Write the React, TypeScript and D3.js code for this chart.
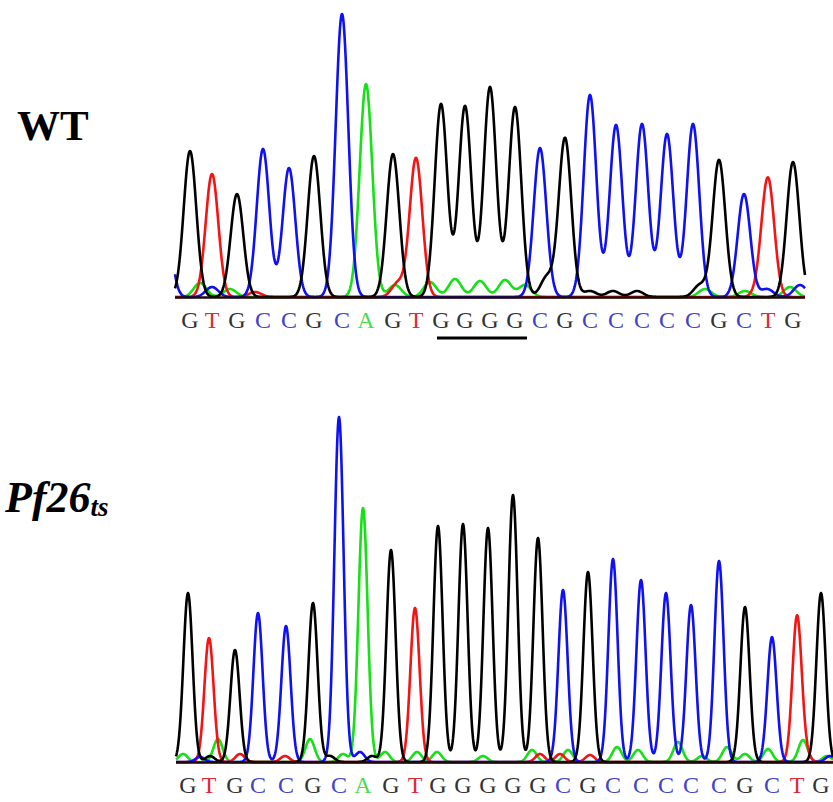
import React from "react";
import * as d3 from "d3";

// base calls, peak positions (scan) and peak heights (signal)
const wtBases = "GTGCCGCAGTGGGGCGCCCCCGCTG";
const wtPos = [15, 37, 62, 88, 114, 139, 167, 191, 218, 241, 266, 290, 315, 340, 365, 390, 415, 441, 467, 492, 518, 544, 569, 593, 618];
const wtHeight = [146, 123, 103, 148, 129, 141, 283, 213, 143, 139, 193, 191, 210, 190, 149, 159, 202, 172, 173, 163, 173, 137, 103, 117, 135];
// background / minor peaks: [base, scan, height]
const wtNoise = [
  ["C", -10, 80], ["A", 25, 14], ["C", 37, 10], ["A", 55, 8], ["T", 80, 5],
  ["A", 220, 12], ["T", 223, 14], ["A", 255, 15], ["A", 280, 18], ["A", 305, 16],
  ["A", 330, 17], ["A", 350, 12], ["G", 372, 20], ["G", 415, 6], ["G", 438, 6],
  ["G", 462, 6], ["G", 525, 12], ["A", 530, 8], ["A", 570, 6], ["T", 585, 6],
  ["C", 592, 8], ["A", 615, 10], ["C", 625, 12],
];

const mtBases = "GTGCCGCAGTGGGGGCGCCCCCGCTG";
const mtPos = [12, 33, 59, 82, 110, 137, 163, 187, 215, 239, 262, 287, 312, 337, 362, 387, 412, 437, 465, 490, 515, 543, 569, 596, 621, 645];
const mtHeight = [169, 124, 112, 149, 136, 159, 345, 254, 212, 154, 236, 238, 234, 267, 224, 172, 190, 203, 182, 169, 157, 201, 155, 125, 145, 169];
const mtNoise = [
  ["A", 7, 8], ["C", 24, 5], ["G", 34, 6], ["A", 42, 23], ["T", 64, 8],
  ["T", 109, 6], ["A", 134, 23], ["G", 154, 6], ["A", 167, 8], ["C", 184, 10],
  ["G", 196, 6], ["A", 209, 10], ["A", 241, 10], ["A", 261, 10], ["A", 307, 6],
  ["A", 356, 12], ["T", 364, 8], ["T", 384, 8], ["A", 392, 12], ["T", 414, 7],
  ["A", 441, 15], ["A", 462, 12], ["A", 502, 20], ["A", 526, 6], ["A", 551, 15],
  ["A", 569, 8], ["A", 592, 13], ["A", 627, 22], ["T", 629, 8], ["A", 651, 6],
  ["C", 654, 6],
];

const traceColor = { A: "#16e016", C: "#1010f5", G: "#000000", T: "#f51414" };
const textColor = { A: "#4fdc4f", C: "#4343c8", G: "#333333", T: "#dd2a35" };
const drawOrder = ["A", "T", "C", "G"];

const Trace = ({ bases, pos, height, noise, sigma, x, y, maxScan }) => {
  const peaks = bases.split("").map((b, i) => ({ base: b, scan: pos[i], h: height[i] }));
  noise.forEach(([b, s, h]) => peaks.push({ base: b, scan: s, h: h }));
  const scans = d3.range(0, maxScan + 0.01, 0.5);
  const line = d3.line().x(d => x(d[0])).y(d => y(d[1]));
  const base = y(0);

  return (
    <g>
      {drawOrder.map(ch => {
        const mine = peaks.filter(p => p.base === ch);
        const pts = scans.map(s => {
          let v = 0;
          mine.forEach(p => {
            const d = s - p.scan;
            v += p.h * Math.exp(-(d * d) / (2 * sigma * sigma));
          });
          return [s, v];
        });
        return (
          <path key={ch} d={line(pts)} fill="none" stroke={traceColor[ch]}
            strokeWidth={2.6} strokeLinejoin="round" />
        );
      })}
      <line x1={x(0)} x2={x(maxScan)} y1={base + 0.5} y2={base + 0.5}
        stroke="#1e0808" strokeWidth={2.6} />
      {bases.split("").map((b, i) => (
        <text key={i} x={x(pos[i])} y={base} dy={31}
          textAnchor="middle" fontFamily="'Liberation Serif', serif"
          fontSize={24} fill={textColor[b]}>{b}</text>
      ))}
    </g>
  );
};

const App = () => {
  const width = 833;
  const height = 802;

  const wtX = d3.scaleLinear().domain([0, 630]).range([175, 805]);
  const wtY = d3.scaleLinear().domain([0, 300]).range([297, -3]);
  const mtX = d3.scaleLinear().domain([0, 657]).range([176, 833]);
  const mtY = d3.scaleLinear().domain([0, 350]).range([762, 412]);

  return (
    <svg width={width} height={height}
      style={{ position: "absolute", left: 0, top: 0, background: "#fff" }}>
      <text x={17} y={140} fontFamily="'Liberation Serif', serif" fontWeight="bold"
        fontSize={43}>WT</text>
      <text x={5} y={512} fontFamily="'Liberation Serif', serif" fontWeight="bold"
        fontStyle="italic" fontSize={44}>
        Pf26<tspan fontSize={27} dy={4}>ts</tspan>
      </text>

      <Trace bases={wtBases} pos={wtPos} height={wtHeight} noise={wtNoise}
        sigma={6.3} x={wtX} y={wtY} maxScan={630} />
      <line x1={wtX(wtPos[10]) - 4} x2={wtX(wtPos[13]) + 12} y1={338} y2={338}
        stroke="#000" strokeWidth={3} />

      <Trace bases={mtBases} pos={mtPos} height={mtHeight} noise={mtNoise}
        sigma={4.6} x={mtX} y={mtY} maxScan={657} />
    </svg>
  );
};

export default App;
